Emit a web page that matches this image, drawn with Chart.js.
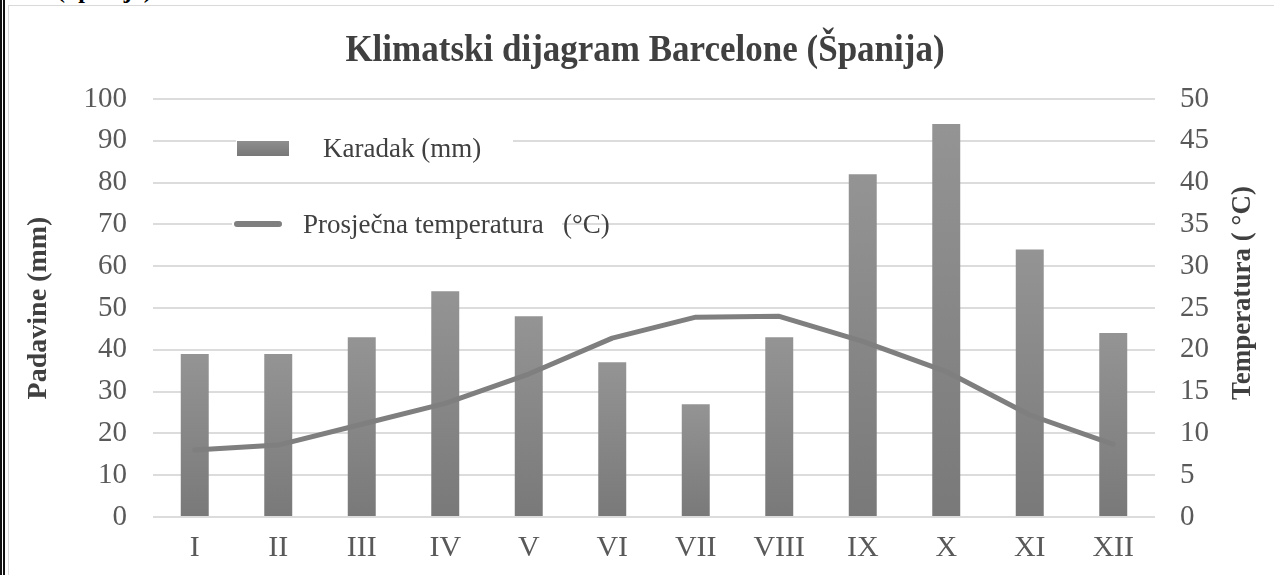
<!DOCTYPE html>
<html>
<head>
<meta charset="utf-8">
<title>Klimatski dijagram Barcelone (Španija)</title>
<script src="https://cdn.jsdelivr.net/npm/chart.js@4.4.1/dist/chart.umd.min.js"></script>
<style>
  html, body { margin: 0; padding: 0; background: #ffffff; }
  body { width: 1274px; height: 575px; position: relative; overflow: hidden; }
  .caption-line {
    position: absolute; left: 57px; top: -22px;
    font: bold 24px "Liberation Serif", "Times New Roman", serif;
    line-height: 24px; color: #000; white-space: nowrap;
  }
  .rule-black { position: absolute; top: 0; bottom: 0; width: 1.5px; background: #111; }
  .frame { position: absolute; left: 8px; top: 5px; right: -4px; bottom: -4px;
           border-left: 1.5px solid #d9d9d9; border-top: 1.5px solid #d9d9d9; background: transparent; }
  canvas { position: absolute; left: 0; top: 0; }
</style>
</head>
<body>
<div class="caption-line">(Španija)</div>
<div class="rule-black" style="left:0"></div>
<div class="rule-black" style="left:3px"></div>
<div class="frame"></div>
<canvas id="climate" width="1274" height="575"></canvas>
<script>
// Months (Roman numerals) and monthly climate normals for Barcelona
const months = ['I', 'II', 'III', 'IV', 'V', 'VI', 'VII', 'VIII', 'IX', 'X', 'XI', 'XII'];
const precipitation = [39, 39, 43, 54, 48, 37, 27, 43, 82, 94, 64, 44];          // mm
const temperature = [8.0, 8.6, 11.1, 13.6, 17.1, 21.4, 23.9, 24.0, 21.0, 17.4, 12.2, 8.7]; // °C

const chartTitle = 'Klimatski dijagram Barcelone (Španija)';
const precipLabel = 'Karadak (mm)';
const tempLabel = 'Prosječna temperatura';
const tempUnit = '(°C)';
const leftAxisTitle = 'Padavine (mm)';
const rightAxisTitle = 'Temperatura ( °C)';

const SERIF = '"Liberation Serif", "Times New Roman", serif';
const BAR_TOP = '#949494';
const BAR_BOTTOM = '#797979';
const LINE_COLOR = '#7f7f7f';

// vertical gradient for each bar, from its top down to the zero line
function barGradient(ctx) {
  const chart = ctx.chart;
  if (!chart.chartArea || ctx.type !== 'data') return BAR_TOP;
  const y = chart.scales.y;
  const top = y.getPixelForValue(ctx.parsed.y);
  const base = y.getPixelForValue(0);
  const g = chart.ctx.createLinearGradient(0, top, 0, base);
  g.addColorStop(0, BAR_TOP);
  g.addColorStop(1, BAR_BOTTOM);
  return g;
}

// chart heading, right-hand axis title (reads upwards) and the in-plot legend
const decorations = {
  id: 'decorations',
  afterDraw(chart) {
    const c = chart.ctx;
    c.save();

    c.save();
    c.translate(645, 61);
    c.scale(1, 1.08);
    c.fillStyle = '#404040';
    c.font = 'bold 35px ' + SERIF;
    c.textAlign = 'center';
    c.textBaseline = 'alphabetic';
    c.fillText(chartTitle, 0, 0);
    c.restore();

    c.save();
    c.translate(1250, 293);
    c.rotate(-Math.PI / 2);
    c.font = 'bold 27px ' + SERIF;
    c.fillStyle = '#404040';
    c.textAlign = 'center';
    c.textBaseline = 'alphabetic';
    c.fillText(rightAxisTitle, 0, 0);
    c.restore();

    // legend row 1: precipitation swatch
    c.fillStyle = '#ffffff';
    c.fillRect(236, 132, 277, 34);
    const g = c.createLinearGradient(0, 141, 0, 156);
    g.addColorStop(0, '#8e8e8e');
    g.addColorStop(1, '#777777');
    c.fillStyle = g;
    c.fillRect(237, 141, 52, 15);
    c.fillStyle = '#404040';
    c.font = '27px ' + SERIF;
    c.textAlign = 'left';
    c.textBaseline = 'middle';
    c.fillText(precipLabel, 323, 150);

    // legend row 2: temperature line
    c.fillStyle = '#ffffff';
    c.fillRect(232, 212, 330, 26);
    c.strokeStyle = LINE_COLOR;
    c.lineWidth = 6;
    c.lineCap = 'round';
    c.beginPath();
    c.moveTo(237, 224);
    c.lineTo(279, 224);
    c.stroke();
    c.fillStyle = '#404040';
    c.fillText(tempLabel, 303, 226);
    c.fillText(tempUnit, 563, 226);

    c.restore();
  }
};

new Chart(document.getElementById('climate'), {
  data: {
    labels: months,
    datasets: [
      {
        type: 'line',
        label: tempLabel + ' ' + tempUnit,
        data: temperature,
        yAxisID: 'y1',
        borderColor: LINE_COLOR,
        borderWidth: 5,
        borderCapStyle: 'round',
        borderJoinStyle: 'round',
        pointRadius: 0,
        tension: 0,
        order: 0
      },
      {
        type: 'bar',
        label: precipLabel,
        data: precipitation,
        yAxisID: 'y',
        backgroundColor: barGradient,
        borderWidth: 0,
        categoryPercentage: 1,
        barPercentage: 0.335,
        order: 1
      }
    ]
  },
  options: {
    responsive: false,
    animation: false,
    layout: { padding: { top: 99, left: 12, right: 19, bottom: 8 } },
    plugins: {
      legend: { display: false },
      title: { display: false },
      tooltip: { enabled: false }
    },
    scales: {
      x: {
        grid: { display: false, drawTicks: false },
        border: { display: false },
        ticks: {
          color: '#595959',
          font: { family: SERIF, size: 30 },
          padding: 13,
          maxRotation: 0,
          autoSkip: false
        },
        afterFit(scale) { scale.height = 50; }
      },
      y: {
        position: 'left',
        min: 0,
        max: 100,
        grid: { color: '#dcdcdc', lineWidth: 2, drawTicks: false },
        border: { display: false },
        ticks: {
          stepSize: 10,
          color: '#595959',
          font: { family: SERIF, size: 29 },
          padding: 26
        },
        title: {
          display: true,
          text: leftAxisTitle,
          color: '#404040',
          font: { family: SERIF, size: 28, weight: 'bold' },
          padding: { top: 10, bottom: 0 }
        },
        afterFit(scale) { scale.width = 141; }
      },
      y1: {
        position: 'right',
        min: 0,
        max: 50,
        grid: { display: false, drawTicks: false },
        border: { display: false },
        ticks: {
          stepSize: 5,
          color: '#595959',
          font: { family: SERIF, size: 29 },
          padding: 25
        },
        afterFit(scale) { scale.width = 100; }
      }
    }
  },
  plugins: [decorations]
});
</script>
</body>
</html>
